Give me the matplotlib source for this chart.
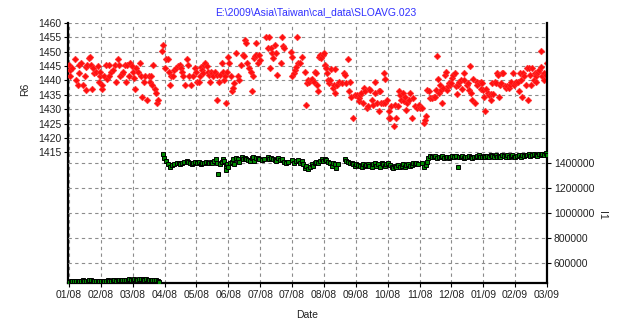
import matplotlib
matplotlib.use('Agg')
import matplotlib.pyplot as plt
from matplotlib.ticker import FixedLocator, FuncFormatter

plt.rcParams['font.family'] = ['Liberation Sans', 'DejaVu Sans']

# ---------------- data ----------------
title_text = r"E:\2009\Asia\Taiwan\cal_data\SLOAVG.023"
x_tick_labels = ["01/08", "02/08", "03/08", "04/08", "05/08", "06/08", "07/08", "07/08",
                 "08/08", "09/08", "10/08", "11/08", "12/08", "01/09", "02/09", "03/09"]
r6_ticks = [1415, 1420, 1425, 1430, 1435, 1440, 1445, 1450, 1455, 1460]
i1_ticks = [600000, 800000, 1000000, 1200000, 1400000]

# time in tick intervals (0 = first tick "01/08")
r6_t = [
    0.00, 0.04, 0.10, 0.02, 0.18, 0.23, 0.28, 0.33, 0.39, 0.33, 0.44, 0.49, 0.52, 0.56, 0.54, 0.63,
    0.67, 0.70, 0.73, 0.77, 0.80, 0.86, 0.91, 0.94, 0.96, 0.98, 1.04, 1.04, 1.09, 1.15, 1.19, 1.25,
    1.27, 1.33, 1.38, 1.43, 1.48, 1.54, 1.57, 1.61, 1.67, 1.71, 1.75, 1.78, 1.82, 1.88, 1.93, 1.99,
    2.01, 2.03, 2.06, 2.11, 2.16, 2.24, 2.27, 2.30, 2.34, 2.40, 2.45, 2.51, 2.55, 2.58, 2.61, 2.65,
    2.69, 2.72, 2.76, 2.79,
    2.93, 2.95, 3.00, 3.05, 3.10, 3.13, 3.16, 3.21, 3.26, 3.31, 3.36, 3.42, 3.47, 3.52, 3.55, 3.59,
    3.63, 3.70, 3.73, 3.78, 3.84,
    3.90, 3.96, 3.98, 4.03, 4.09, 4.11, 4.14, 4.17, 4.21, 4.24, 4.27, 4.32, 4.35, 4.38, 4.42, 4.45,
    4.48, 4.52, 4.59, 4.63, 4.66, 4.71, 4.73, 4.80, 4.82, 4.87, 4.90, 4.92, 4.97, 5.00, 5.03, 5.08,
    5.13, 5.15, 5.18, 5.24, 5.29, 5.34, 5.39, 5.46, 5.50, 5.53, 5.57, 5.60, 5.65, 5.71, 5.74, 5.76,
    5.81, 5.84, 5.86, 5.88, 5.92, 5.97, 5.99, 6.18, 6.23, 6.28, 6.30, 6.33, 6.36, 6.40, 6.47, 6.49,
    6.54, 6.65, 6.70, 6.72, 6.75, 6.96, 6.99, 7.01, 7.06, 7.09, 7.12, 7.17, 7.20, 7.24, 7.32, 7.41,
    7.43, 7.48, 7.51,
    7.52, 7.58, 7.63, 7.68, 7.71, 7.75, 7.78, 7.82, 7.86, 7.89, 7.92, 7.96, 7.99, 8.03, 8.05, 8.10,
    8.13, 8.17, 8.20, 8.23, 8.28, 8.31, 8.34, 8.36, 8.41, 8.46, 8.57, 8.62, 8.65, 8.69, 8.76, 8.78,
    8.83, 8.86, 8.90, 8.99, 9.04, 9.09, 9.11, 9.14, 9.17, 9.22, 9.25, 9.30, 9.35, 9.38, 9.43, 9.46,
    9.51, 9.53, 9.59, 9.61, 9.67, 9.72, 9.74, 9.77, 9.80, 9.84, 9.87, 9.91, 9.93, 9.98, 10.03, 10.05,
    10.08, 10.11, 10.19, 10.22, 10.26, 10.32, 10.36, 10.40, 10.43, 10.47, 10.50, 10.53, 10.57, 10.61,
    10.66, 10.71, 10.76, 10.81, 10.85, 10.92, 10.97, 11.02, 11.08, 11.13, 11.16, 11.20, 11.23, 11.29,
    11.34, 11.39, 11.44, 11.49, 11.51, 11.54, 11.58,
    11.61, 11.64, 11.68, 11.71, 11.74, 11.79, 11.82, 11.85, 11.89, 11.92, 11.95, 11.99, 12.03, 12.06,
    12.10, 12.13, 12.18, 12.20, 12.24, 12.29, 12.34, 12.39, 12.41, 12.48, 12.52, 12.55, 12.58, 12.60,
    12.65, 12.68, 12.73, 12.79, 12.81, 12.86, 12.92, 12.94, 12.97, 13.00, 13.02, 13.07, 13.10, 13.14,
    13.18, 13.23, 13.25, 13.28, 13.31, 13.36, 13.39, 13.44, 13.46, 13.49, 13.52, 13.56, 13.59, 13.63,
    13.67, 13.70, 13.75, 13.81, 13.84, 13.88, 13.94, 13.96, 14.01, 14.04, 14.09, 14.12, 14.15, 14.19,
    14.22, 14.25, 14.29, 14.33, 14.38, 14.40, 14.43, 14.46, 14.51, 14.54, 14.59, 14.61, 14.64, 14.67,
    14.69, 14.71, 14.75, 14.80, 14.82, 14.85, 14.90, 14.92, 14.96, 14.99,
]
r6_val = [
    1445.4, 1443.7, 1444.3, 1441.4, 1447.4, 1440.2, 1438.5, 1445.4, 1446.0, 1442.5, 1438.5, 1441.4,
    1444.8, 1445.4, 1436.8, 1447.7, 1448.3, 1445.4, 1437.0, 1444.3, 1442.5, 1443.1, 1445.1, 1439.6,
    1441.4, 1443.1, 1437.0, 1438.5, 1441.4, 1445.4, 1440.4, 1441.4, 1445.4, 1443.1, 1443.7, 1445.4,
    1439.3, 1447.4, 1445.4, 1441.4, 1442.3, 1443.1, 1445.4, 1439.3, 1445.4, 1441.4, 1446.0, 1445.1,
    1443.1, 1440.8, 1437.0, 1444.3, 1443.1, 1446.0, 1441.4, 1434.1, 1439.3, 1441.4, 1433.3, 1441.4,
    1439.3, 1441.4, 1438.5, 1445.4, 1437.0, 1435.6, 1432.3, 1433.3,
    1450.4, 1452.4, 1444.3, 1447.4, 1447.4, 1443.1, 1438.5, 1441.4, 1441.4, 1443.7, 1444.3, 1445.1,
    1445.4, 1444.3, 1443.1, 1441.4, 1438.5, 1447.4, 1445.4, 1441.4, 1438.5,
    1441.4, 1444.3, 1443.1, 1439.6, 1439.3, 1441.4, 1444.6, 1443.7, 1442.5, 1445.4, 1446.0, 1445.1,
    1443.1, 1441.9, 1439.6, 1443.1, 1442.5, 1441.4, 1442.8, 1441.9, 1433.3, 1439.6, 1441.9, 1446.0,
    1442.8, 1440.2, 1441.4, 1432.3, 1443.1, 1448.3, 1446.0, 1441.4, 1436.2, 1437.3, 1439.0, 1449.5,
    1441.4, 1440.2, 1445.4, 1448.9, 1448.5, 1454.1, 1453.2, 1446.0, 1444.3, 1443.1, 1436.2, 1441.4,
    1447.7, 1448.5, 1453.2, 1448.9, 1446.0, 1448.9, 1447.2, 1455.3, 1451.2, 1455.3, 1444.3, 1451.2,
    1449.5, 1447.7, 1452.4, 1449.5, 1441.9, 1446.0, 1455.3, 1452.0, 1451.2, 1450.0, 1448.3, 1441.4,
    1442.5, 1443.7, 1444.8, 1455.3, 1446.0, 1446.0, 1448.3, 1443.1, 1431.5, 1439.0, 1440.2,
    1439.6, 1440.2, 1440.4, 1439.6, 1443.1, 1442.5, 1438.5, 1436.2, 1448.3, 1448.9, 1447.7, 1448.9,
    1449.5, 1445.4, 1444.3, 1442.5, 1440.2, 1439.1, 1440.2, 1443.9, 1437.3, 1438.5, 1435.6, 1443.9,
    1438.5, 1439.6, 1439.1, 1442.5, 1442.0, 1439.1, 1447.4, 1436.2, 1439.3, 1434.2, 1426.9, 1435.0,
    1435.0, 1432.7, 1433.9, 1435.0, 1435.6, 1432.1, 1437.3, 1436.2, 1430.4, 1431.0, 1437.0, 1436.7,
    1433.3, 1431.5, 1435.6, 1439.3, 1432.1, 1436.2, 1429.2, 1436.2, 1432.3, 1432.3, 1442.5, 1440.4,
    1432.1, 1433.3, 1429.2, 1426.9, 1426.9, 1431.0, 1424.2, 1431.5, 1426.9, 1431.0, 1436.2, 1435.0,
    1433.3, 1435.6, 1432.7, 1434.4, 1429.8, 1432.1, 1433.3, 1435.6, 1426.9, 1433.9, 1431.0, 1430.4,
    1431.5, 1430.4, 1430.4, 1425.2, 1426.3, 1427.5, 1436.7, 1436.2, 1433.9, 1433.9, 1434.4, 1434.4,
    1436.7, 1448.5, 1440.4,
    1435.6, 1438.5, 1436.7, 1432.3, 1437.3, 1442.0, 1443.1, 1436.7, 1438.1, 1439.1, 1438.5, 1439.1,
    1440.8, 1442.0, 1442.5, 1437.9, 1435.4, 1438.5, 1439.6, 1440.2, 1437.0, 1440.2, 1442.5, 1438.5,
    1439.1, 1436.7, 1445.1, 1435.8, 1433.3, 1440.4, 1432.1, 1439.3, 1438.5, 1439.1, 1439.6, 1437.0,
    1439.1, 1436.7, 1434.2, 1429.2, 1437.0, 1435.6, 1435.0, 1433.3, 1435.4, 1439.1, 1435.4, 1439.6,
    1439.1, 1442.5, 1442.0, 1434.2, 1438.5, 1439.1, 1442.5, 1442.5, 1438.1, 1437.3, 1437.9, 1437.3,
    1438.5, 1439.3, 1442.5, 1438.5, 1439.1, 1439.6, 1439.3, 1436.2, 1442.5, 1440.2, 1434.2, 1442.5,
    1441.6, 1438.5, 1444.3, 1433.3, 1444.3, 1442.0, 1438.5, 1444.3, 1440.2, 1442.5, 1441.4, 1439.6,
    1442.5, 1443.1, 1443.7, 1444.8, 1450.4, 1441.4, 1440.2, 1442.5, 1442.0, 1446.2,
]

i1_t = [
    0.01, 0.05, 0.11, 0.16, 0.22, 0.27, 0.32, 0.38, 0.43, 0.48, 0.53, 0.59, 0.64, 0.69, 0.74, 0.80,
    0.85, 0.90, 0.95, 1.01, 1.06, 1.11, 1.16, 1.21, 1.26, 1.32, 1.37, 1.42, 1.47, 1.53, 1.58, 1.63,
    1.68, 1.74, 1.79, 1.84, 1.89, 1.95, 2.00, 2.05, 2.10, 2.15, 2.21, 2.26, 2.31, 2.36, 2.42, 2.47,
    2.52, 2.57, 2.62, 2.68, 2.73, 2.78, 2.83,
    2.96, 2.99, 3.06, 3.12, 3.17, 3.23, 3.30, 3.38, 3.44, 3.48, 3.54, 3.62, 3.69, 3.75, 3.79, 3.86,
    3.90, 3.96, 4.03, 4.09, 4.14, 4.19, 4.24, 4.29, 4.35, 4.40, 4.45, 4.50, 4.56, 4.61, 4.66, 4.69,
    4.73, 4.79, 4.84, 4.87, 4.92, 4.94, 4.97, 5.00, 5.05, 5.11, 5.15, 5.18, 5.24, 5.29, 5.34, 5.42,
    5.46, 5.53, 5.57, 5.63, 5.67, 5.74, 5.78, 5.81, 5.86, 5.92, 5.97, 6.05, 6.12, 6.23, 6.28, 6.33,
    6.41, 6.47, 6.51, 6.57, 6.62, 6.68, 6.75, 6.80,
    6.86, 6.99, 7.06, 7.12, 7.20, 7.24, 7.31, 7.35, 7.41, 7.45, 7.51, 7.56, 7.62, 7.66, 7.72, 7.76,
    7.83, 7.87, 7.93, 7.97, 8.04, 8.08, 8.14, 8.18, 8.24, 8.29, 8.35, 8.39, 8.45, 8.66, 8.70, 8.77,
    8.81, 8.87, 8.91, 8.98, 9.02, 9.08, 9.12, 9.19, 9.23, 9.29, 9.33, 9.39, 9.43, 9.50, 9.54, 9.60,
    9.64, 9.71, 9.75, 9.81, 9.85, 9.92, 9.96, 10.02, 10.06, 10.13, 10.17, 10.23, 10.27, 10.34, 10.38,
    10.44, 10.48, 10.54, 10.58, 10.65, 10.69, 10.75, 10.79, 10.86, 10.90, 10.96,
    11.07, 11.14, 11.21, 11.24, 11.27, 11.32, 11.38, 11.45, 11.50, 11.56, 11.61, 11.66, 11.71, 11.77,
    11.82, 11.87, 11.92, 11.97, 12.03, 12.08, 12.13, 12.21, 12.24, 12.29, 12.34, 12.39, 12.44, 12.50,
    12.55, 12.60, 12.65, 12.70, 12.76, 12.81, 12.86, 12.91, 12.97, 13.02, 13.07, 13.12, 13.18, 13.23,
    13.28, 13.33, 13.39, 13.44, 13.49, 13.54, 13.59, 13.65, 13.70, 13.75, 13.80, 13.86, 13.91, 13.96,
    14.01, 14.07, 14.12, 14.17, 14.22, 14.27, 14.33, 14.38, 14.43, 14.48, 14.53, 14.59, 14.64, 14.69,
    14.74, 14.80, 14.85, 14.90, 14.97, 15.00,
]
i1_val = [
    448700, 451000, 454000, 452000, 454000, 449000, 456700, 452000, 459300, 455000, 454000, 457000,
    462000, 458000, 454000, 452000, 454000, 455000, 456700, 453000, 454000, 455000, 456700, 458000,
    456700, 457000, 459300, 458000, 456700, 460000, 462000, 461000, 459300, 462000, 464700, 464700,
    467300, 463000, 462000, 467300, 465000, 464700, 468000, 472600, 470000, 464700, 466000, 464700,
    463000, 462000, 464700, 462000, 459300, 456000, 448700,
    1466000, 1440000, 1413000, 1387000, 1368000, 1379000, 1387000, 1395000, 1400000, 1387000,
    1395000, 1405000, 1413000, 1405000, 1400000, 1387000, 1400000, 1405000, 1395000, 1405000,
    1387000, 1395000, 1400000, 1405000, 1395000, 1400000, 1405000, 1395000, 1413000, 1427000,
    1400000, 1307000, 1387000, 1405000, 1427000, 1413000, 1373000, 1341000, 1387000, 1368000,
    1400000, 1405000, 1427000, 1387000, 1440000, 1432000, 1405000, 1448000, 1432000, 1440000,
    1432000, 1421000, 1413000, 1440000, 1448000, 1413000, 1440000, 1440000, 1432000, 1421000,
    1432000, 1448000, 1432000, 1440000, 1432000, 1421000, 1413000, 1440000, 1421000, 1427000,
    1405000, 1400000,
    1405000, 1421000, 1400000, 1413000, 1421000, 1400000, 1413000, 1387000, 1360000, 1373000,
    1352000, 1368000, 1387000, 1373000, 1395000, 1405000, 1400000, 1413000, 1427000, 1413000,
    1432000, 1421000, 1405000, 1395000, 1373000, 1400000, 1387000, 1360000, 1387000, 1432000,
    1413000, 1405000, 1395000, 1400000, 1387000, 1373000, 1387000, 1379000, 1373000, 1368000,
    1387000, 1373000, 1379000, 1387000, 1373000, 1368000, 1387000, 1400000, 1373000, 1387000,
    1368000, 1395000, 1387000, 1373000, 1387000, 1395000, 1379000, 1368000, 1360000, 1373000,
    1368000, 1379000, 1368000, 1373000, 1387000, 1368000, 1379000, 1387000, 1373000, 1379000,
    1395000, 1387000, 1400000, 1387000,
    1395000, 1368000, 1381000, 1408000, 1435000, 1453000, 1448000, 1443000, 1453000, 1435000,
    1448000, 1443000, 1453000, 1435000, 1448000, 1443000, 1435000, 1448000, 1453000, 1443000,
    1453000, 1368000, 1448000, 1443000, 1453000, 1435000, 1448000, 1443000, 1453000, 1448000,
    1435000, 1443000, 1448000, 1453000, 1461000, 1448000, 1443000, 1453000, 1443000, 1453000,
    1448000, 1461000, 1453000, 1443000, 1461000, 1448000, 1453000, 1443000, 1461000, 1453000,
    1443000, 1461000, 1448000, 1453000, 1461000, 1448000, 1443000, 1453000, 1461000, 1448000,
    1461000, 1453000, 1464000, 1458000, 1469000, 1453000, 1461000, 1469000, 1461000, 1453000,
    1469000, 1461000, 1469000, 1461000, 1480000, 1461000,
]

# ---------------- figure ----------------
W, H = 621, 326
fig = plt.figure(figsize=(W / 100, H / 100), dpi=100)
fig.patch.set_facecolor('white')
ax = fig.add_axes([68 / W, (H - 283) / H, 479 / W, 260 / H])
ax2 = ax.twinx()

grid_kw = dict(color='#8c8c8c', linestyle=(0, (3, 3)), linewidth=0.8)

ax.set_xlim(-0.03, 15.0)
ax.set_ylim(1369.5, 1460)
ax2.set_ylim(437600, 2517600)

ax.xaxis.set_major_locator(FixedLocator(list(range(len(x_tick_labels)))))
ax.set_xticklabels(x_tick_labels)
ax.yaxis.set_major_locator(FixedLocator(r6_ticks))
ax2.yaxis.set_major_locator(FixedLocator(i1_ticks))
ax2.yaxis.set_major_formatter(FuncFormatter(lambda v, p: "%d" % v))

ax.grid(True, axis='both', **grid_kw)
ax2.grid(True, axis='y', **grid_kw)
ax.set_axisbelow(True)
ax2.set_axisbelow(True)

ax.plot(r6_t, r6_val, linestyle='none', marker='D', markersize=3.4,
        color='#ff1010', markeredgecolor='#ff3030', markeredgewidth=0.4, zorder=3)
ax2.plot(i1_t, i1_val, linestyle='none', marker='s', markersize=3.2,
         markerfacecolor='#008a00', markeredgecolor='#000000', markeredgewidth=0.7, zorder=3)

for a in (ax, ax2):
    a.spines['top'].set_visible(False)
ax.spines['right'].set_visible(False)
ax2.spines['left'].set_visible(False)
ax2.spines['bottom'].set_visible(False)
ax.spines['left'].set_linewidth(1.6)
ax.spines['bottom'].set_linewidth(1.6)
ax2.spines['right'].set_linewidth(1.6)

tick_kw = dict(labelsize=7.5, length=3, width=0.8, colors='#000000', pad=2)
ax.tick_params(axis='both', **tick_kw)
ax2.tick_params(axis='y', **tick_kw)
for lab in ax.get_xticklabels() + ax.get_yticklabels() + ax2.get_yticklabels():
    lab.set_color('#222222')

ax.set_xlabel('Date', fontsize=7.5, color='#222222')
ax.xaxis.set_label_coords(0.5, -0.105)
ax.set_ylabel('R6', fontsize=7.5, color='#222222')
ax.yaxis.set_label_coords(-0.079, 0.745)
ax2.set_ylabel('I1', fontsize=7.5, color='#222222', rotation=-90, va='center')
ax2.yaxis.set_label_coords(1.115, 0.26)

fig.text(316 / W, 1 - 12 / H, title_text, color='#3030ff', fontsize=7.5,
         ha='center', va='center')

fig.savefig('out.png', dpi=100)
